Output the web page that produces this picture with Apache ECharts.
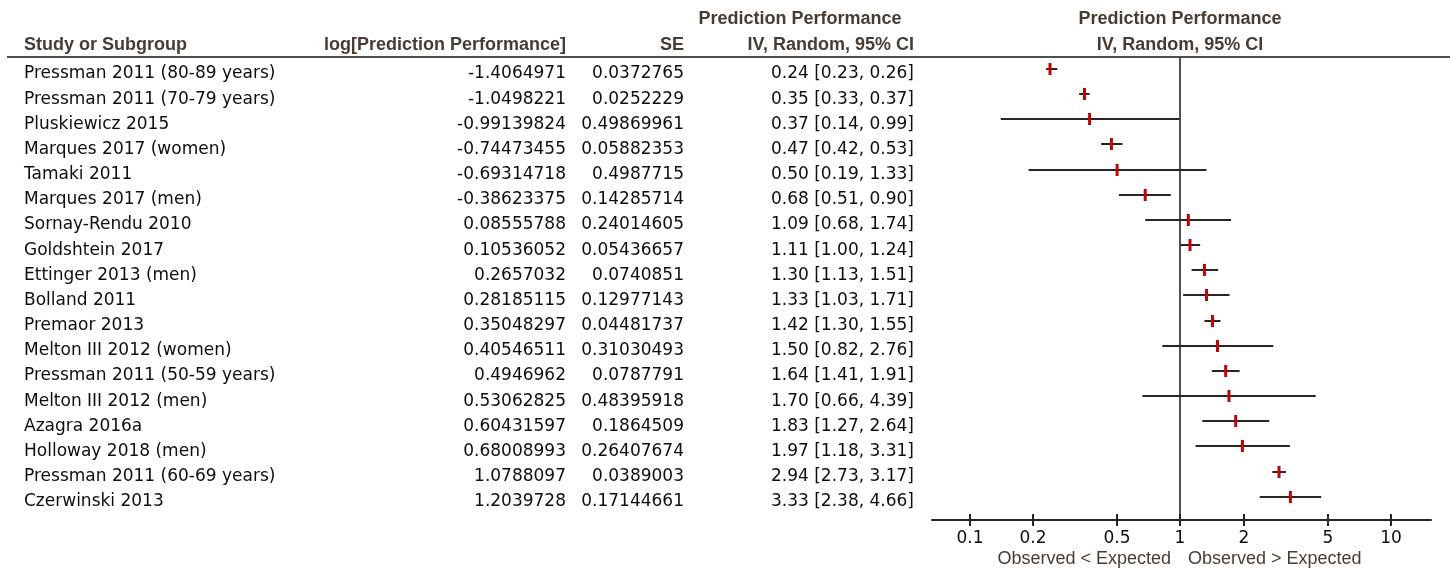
<!DOCTYPE html>
<html>
<head>
<meta charset="utf-8">
<script src="https://cdn.jsdelivr.net/npm/echarts@6/dist/echarts.min.js"></script>
<style>
  html, body { margin: 0; padding: 0; background: #ffffff; }
  #chart { width: 1450px; height: 569px; }
</style>
</head>
<body>
<div id="chart"></div>
<script>
// Study rows, top to bottom
const studies = [
  'Pressman 2011 (80-89 years)',
  'Pressman 2011 (70-79 years)',
  'Pluskiewicz 2015',
  'Marques 2017 (women)',
  'Tamaki 2011',
  'Marques 2017 (men)',
  'Sornay-Rendu 2010',
  'Goldshtein 2017',
  'Ettinger 2013 (men)',
  'Bolland 2011',
  'Premaor 2013',
  'Melton III 2012 (women)',
  'Pressman 2011 (50-59 years)',
  'Melton III 2012 (men)',
  'Azagra 2016a',
  'Holloway 2018 (men)',
  'Pressman 2011 (60-69 years)',
  'Czerwinski 2013'
];

// log[Prediction Performance]
const logPerformance = [
  -1.4064971, -1.0498221, -0.99139824, -0.74473455, -0.69314718, -0.38623375,
  0.08555788, 0.10536052, 0.2657032, 0.28185115, 0.35048297, 0.40546511,
  0.4946962, 0.53062825, 0.60431597, 0.68008993, 1.0788097, 1.2039728
];

// SE
const standardErrors = [
  '0.0372765', '0.0252229', '0.49869961', '0.05882353', '0.4987715', '0.14285714',
  '0.24014605', '0.05436657', '0.0740851', '0.12977143', '0.04481737', '0.31030493',
  '0.0787791', '0.48395918', '0.1864509', '0.26407674', '0.0389003', '0.17144661'
];

// Prediction Performance, IV, Random, 95% CI
const estimates = [0.24, 0.35, 0.37, 0.47, 0.50, 0.68, 1.09, 1.11, 1.30, 1.33, 1.42, 1.50, 1.64, 1.70, 1.83, 1.97, 2.94, 3.33];
const ciLower   = [0.23, 0.33, 0.14, 0.42, 0.19, 0.51, 0.68, 1.00, 1.13, 1.03, 1.30, 0.82, 1.41, 0.66, 1.27, 1.18, 2.73, 2.38];
const ciUpper   = [0.26, 0.37, 0.99, 0.53, 1.33, 0.90, 1.74, 1.24, 1.51, 1.71, 1.55, 2.76, 1.91, 4.39, 2.64, 3.31, 3.17, 4.66];

// Ratio axis ticks
const tickValues = [0.1, 0.2, 0.5, 1, 2, 5, 10];
const tickLabels = ['0.1', '0.2', '0.5', '1', '2', '5', '10'];

// Column headings and axis captions
const headStudy = 'Study or Subgroup';
const headLog = 'log[Prediction Performance]';
const headSE = 'SE';
const headEffect = 'Prediction Performance';
const headMethod = 'IV, Random, 95% CI';
const favourLeft = 'Observed < Expected';
const favourRight = 'Observed > Expected';

const BODY_FONT = '17px "DejaVu Sans"';
const HEAD_FONT = 'bold 18px "Liberation Sans"';
const HEAD_COLOR = '#463c34';
const TEXT_COLOR = '#0e0e0e';
const LINE_COLOR = '#262626';

const rows = estimates.map((e, i) => [e, ciLower[i], ciUpper[i], i]);

function txt(text, x, y, align, font, fill) {
  return {
    type: 'text', x: x, y: y, silent: true,
    style: {
      text: text, font: font, fill: fill,
      align: align, textAlign: align,
      verticalAlign: 'middle', textVerticalAlign: 'middle'
    }
  };
}

// Confidence interval whisker with a red point-estimate tick
function renderStudy(params, api) {
  const row = api.value(3);
  const y = Math.round(api.coord([1, row])[1]);
  const xl = api.coord([api.value(1), row])[0];
  const xh = api.coord([api.value(2), row])[0];
  const xm = api.coord([api.value(0), row])[0];
  return {
    type: 'group',
    children: [
      { type: 'line', shape: { x1: xl, y1: y, x2: xh, y2: y },
        style: { stroke: LINE_COLOR, lineWidth: 2 } },
      { type: 'rect', shape: { x: xm - 1.5, y: y - 6, width: 3, height: 12 },
        style: { fill: '#cc0000' } }
    ]
  };
}

// Table columns to the left of the plot, aligned with each study row
function renderTableRow(params, api) {
  const i = params.dataIndex;
  const row = api.value(3);
  const y = api.coord([1, row])[1] + 5;
  const ci = estimates[i].toFixed(2) + ' [' + ciLower[i].toFixed(2) + ', ' + ciUpper[i].toFixed(2) + ']';
  return {
    type: 'group',
    children: [
      txt(studies[i], 24, y, 'left', BODY_FONT, TEXT_COLOR),
      txt(String(logPerformance[i]), 566, y, 'right', BODY_FONT, TEXT_COLOR),
      txt(standardErrors[i], 684, y, 'right', BODY_FONT, TEXT_COLOR),
      txt(ci, 914, y, 'right', BODY_FONT, TEXT_COLOR)
    ]
  };
}

function renderTick(params, api) {
  const cs = params.coordSys;
  const x = Math.round(api.coord([api.value(0), 0])[0]);
  const base = cs.y + cs.height;
  return {
    type: 'group',
    children: [
      { type: 'line', shape: { x1: x, y1: base - 6, x2: x, y2: base + 6 },
        style: { stroke: LINE_COLOR, lineWidth: 2 } },
      txt(tickLabels[params.dataIndex], x, base + 19, 'center', BODY_FONT, TEXT_COLOR)
    ]
  };
}

function renderNullLine(params, api) {
  const cs = params.coordSys;
  const x = Math.round(api.coord([api.value(0), 0])[0]);
  return {
    type: 'line',
    shape: { x1: x, y1: cs.y, x2: x, y2: cs.y + cs.height },
    style: { stroke: '#505050', lineWidth: 2 }
  };
}

const chart = echarts.init(document.getElementById('chart'), null, { renderer: 'canvas' });

const plotCenterX = 1180;

chart.setOption({
  backgroundColor: '#ffffff',
  animation: false,
  grid: { left: 932, right: 19, top: 57, bottom: 49, containLabel: false },
  xAxis: {
    type: 'log', logBase: 10, min: 0.066, max: 15.5,
    axisLine: { show: true, onZero: false, lineStyle: { color: LINE_COLOR, width: 2 } },
    axisTick: { show: false }, axisLabel: { show: false }, splitLine: { show: false }
  },
  yAxis: {
    type: 'value', inverse: true, min: -0.477, max: 17.925, show: false
  },
  graphic: [
    { type: 'line', shape: { x1: 7, y1: 57, x2: 1450, y2: 57 }, style: { stroke: '#4d4d4d', lineWidth: 2 }, silent: true },
    txt(headStudy, 24, 45, 'left', HEAD_FONT, HEAD_COLOR),
    txt(headLog, 566, 45, 'right', HEAD_FONT, HEAD_COLOR),
    txt(headSE, 684, 45, 'right', HEAD_FONT, HEAD_COLOR),
    txt(headEffect, 800, 19.5, 'center', HEAD_FONT, HEAD_COLOR),
    txt(headMethod, 914, 45, 'right', HEAD_FONT, HEAD_COLOR),
    txt(headEffect, plotCenterX, 19.5, 'center', HEAD_FONT, HEAD_COLOR),
    txt(headMethod, plotCenterX, 45, 'center', HEAD_FONT, HEAD_COLOR),
    txt(favourLeft, 1171, 559, 'right', '18px "Liberation Sans"', HEAD_COLOR),
    txt(favourRight, 1188, 559, 'left', '18px "Liberation Sans"', HEAD_COLOR)
  ],
  series: [
    { type: 'custom', name: 'null', clip: false, silent: true, z: 1,
      data: [[1, 0]], encode: { x: 0, y: 1 }, renderItem: renderNullLine },
    { type: 'custom', name: 'ticks', clip: false, silent: true, z: 2,
      data: tickValues.map(v => [v, 0]), encode: { x: 0, y: 1 }, renderItem: renderTick },
    { type: 'custom', name: 'studies', clip: false, silent: true, z: 3,
      data: rows, encode: { x: [0, 1, 2], y: 3 }, renderItem: renderStudy },
    { type: 'custom', name: 'table', clip: false, silent: true, z: 3,
      data: rows, encode: { x: [0, 1, 2], y: 3 }, renderItem: renderTableRow }
  ]
});
</script>
</body>
</html>
